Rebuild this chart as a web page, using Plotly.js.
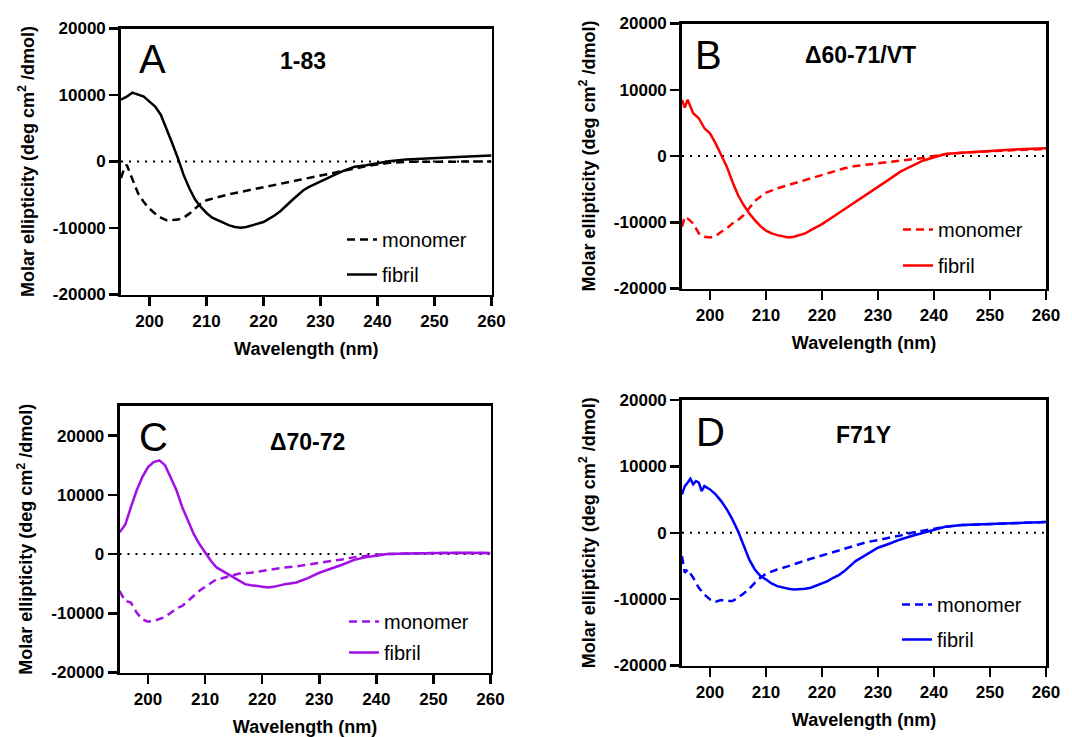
<!DOCTYPE html>
<html>
<head>
<meta charset="utf-8">
<script src="https://cdn.plot.ly/plotly-3.0.1.min.js"></script>
<style>html,body{margin:0;padding:0;background:#fff;}#chart{width:1072px;height:737px;}</style>
</head>
<body>
<div id="chart"></div>
<script>
// ---------- Data (wavelength in nm, molar ellipticity in deg cm2/dmol) ----------
const panelLetters = ["A", "B", "C", "D"];
const panelNames = ["1-83", "Δ60-71/VT", "Δ70-72", "F71Y"];
const seriesNames = ["monomer", "fibril"];
const xTickVals = [200, 210, 220, 230, 240, 250, 260];
const yTickVals = [-20000, -10000, 0, 10000, 20000];
const yTickText = ["-20000", "-10000", "0", "10000", "20000"];

// Panel A (1-83)
const aMonoWl  = [195,195.5,196,197,198,199,200,201,202,203,204,205,206,207,208,209,210,212,214,216,218,220,222,224,226,228,230,232,234,236,238,240,242,245,250,255,260];
const aMonoVal = [-2500,-1200,-500,-2800,-4800,-6100,-7100,-7840,-8440,-8840,-8840,-8740,-8440,-7840,-7090,-6330,-5830,-5330,-4920,-4570,-4220,-3970,-3570,-3170,-2810,-2460,-2210,-1810,-1410,-1060,-700,-400,-200,-50,0,0,0];
const aFibWl   = [195,196,197,198,199,200,201,202,203,204,205,206,207,208,209,210,211,212,213,214,215,216,217,218,219,220,221,222,223,224,225,226,227,228,230,232,234,236,238,240,242,245,250,255,260];
const aFibVal  = [9300,9750,10350,10100,9750,9000,8250,7000,4700,2700,450,-2050,-4070,-5730,-6830,-7740,-8440,-8840,-9250,-9600,-9850,-9950,-9850,-9600,-9350,-9100,-8600,-8090,-7440,-6580,-5830,-5080,-4320,-3820,-2960,-2210,-1410,-800,-550,-200,50,300,550,700,900];

// Panel B (Δ60-71/VT)
const bMonoWl  = [195,195.5,196,197,198,199,200,201,202,203,204,205,206,207,208,209,210,212,214,216,218,220,222,224,226,228,230,232,234,236,238,240,242,245,250,255,260];
const bMonoVal = [-10680,-9170,-9420,-10180,-11690,-12190,-12290,-12090,-11440,-10930,-10180,-9670,-8920,-7910,-6800,-6150,-5540,-4890,-4380,-3880,-3380,-2870,-2370,-1860,-1510,-1310,-1110,-960,-760,-500,-300,0,250,500,760,910,1060];
const bFibWl   = [195,195.5,196,196.5,197,198,199,200,201,202,203,204,205,206,207,208,209,210,211,212,213,214,215,216,217,218,219,220,222,224,226,228,230,232,234,236,238,240,242,245,250,255,260];
const bFibVal  = [8460,7300,8500,7400,6450,5700,4180,3430,1910,150,-1610,-3880,-5890,-7400,-8660,-9670,-10580,-11280,-11690,-11940,-12090,-12290,-12190,-11940,-11690,-11180,-10780,-10280,-9170,-8060,-6900,-5740,-4630,-3530,-2370,-1510,-710,-200,300,500,810,1010,1160];

// Panel C (Δ70-72)
const cMonoWl  = [195,196,197,198,199,200,201,202,203,204,205,206,207,208,209,210,211,212,213,214,215,216,218,220,222,224,226,228,230,232,234,236,238,240,242,245,250,255,260];
const cMonoVal = [-6210,-7910,-8190,-9890,-11020,-11410,-11300,-11020,-10620,-9890,-9150,-8760,-7910,-7060,-6210,-5540,-4860,-4240,-4070,-3840,-3500,-3280,-3160,-2820,-2540,-2260,-2090,-1810,-1530,-1240,-900,-560,-280,-110,0,110,170,170,170];
const cFibWl   = [195,196,197,198,199,200,201,202,203,204,205,206,207,208,209,210,211,212,213,214,215,216,217,218,219,220,221,222,224,226,228,230,232,234,236,238,240,242,245,250,255,260];
const cFibVal  = [3670,4970,7910,10730,12990,14690,15540,15820,14970,12990,10730,7910,5650,3390,1690,280,-1130,-2260,-2820,-3500,-4070,-4630,-5080,-5250,-5370,-5540,-5650,-5540,-5080,-4800,-4070,-3160,-2540,-1810,-1020,-560,-280,0,110,230,230,170];

// Panel D (F71Y)
const dMonoWl  = [195,195.5,196,197,198,199,200,201,202,203,204,205,206,207,208,209,210,212,214,216,218,220,222,224,226,228,230,232,234,236,238,240,242,245,250,255,260];
const dMonoVal = [-3520,-6030,-5530,-6780,-8290,-9300,-10050,-10400,-10150,-10300,-10300,-9800,-9150,-8440,-7540,-6780,-6180,-5530,-5030,-4420,-3920,-3420,-2910,-2410,-1910,-1410,-1110,-800,-400,0,300,600,900,1160,1360,1460,1610];
const dFibWl   = [195,195.5,196,196.5,197,197.5,198,198.5,199,200,201,202,203,204,205,206,207,208,209,210,211,212,213,214,215,216,217,218,219,220,221,222,223,224,225,226,228,230,232,234,236,238,240,242,245,250,255,260];
const dFibVal  = [5780,7030,7540,8140,7290,7790,7540,6280,7030,6530,5780,4770,3520,2010,250,-2010,-4020,-5530,-6530,-7040,-7640,-8040,-8290,-8440,-8540,-8540,-8440,-8290,-7940,-7640,-7290,-6780,-6380,-5780,-5030,-4270,-3270,-2260,-1660,-1010,-500,0,500,900,1160,1360,1460,1610];

const panelColors = ["#000000", "#ff0000", "#a010e6", "#0000ff"];

// ---------- Build ----------
const panels = [
  {mono:[aMonoWl,aMonoVal], fib:[aFibWl,aFibVal]},
  {mono:[bMonoWl,bMonoVal], fib:[bFibWl,bFibVal]},
  {mono:[cMonoWl,cMonoVal], fib:[cFibWl,cFibVal]},
  {mono:[dMonoWl,dMonoVal], fib:[dFibWl,dFibVal]}
];
const FONT = "Liberation Sans, Arial, sans-serif";
const W = 1072, H = 737;
// plot-area boxes in pixels [left, right, top, bottom]
const boxes = [
  [121, 491.5, 28.5, 294.5],
  [682, 1046, 23.5, 288.5],
  [119.5, 490.5, 406, 672.5],
  [682, 1046, 400, 665.5]
];
const yRanges = [[-20000,20000],[-20000,20000],[-20000,25000],[-20000,20000]];
const legendPos = [[342, 220, 6], [898, 210, 7], [344, 602, 2], [897, 585, 6]];
const letterPos = [[152,59],[708,55],[153,437],[710,432]];
const namePos = [[303,61],[860,55],[307,442],[863,435]];

const traces = [];
const layout = {
  width: W, height: H,
  margin: {l:0, r:0, t:0, b:0},
  paper_bgcolor: "#fff", plot_bgcolor: "#fff",
  font: {family: FONT, color: "#000"},
  showlegend: true,
  shapes: [], annotations: []
};

panels.forEach((p, i) => {
  const n = i === 0 ? "" : String(i + 1);
  const xa = "x" + n, ya = "y" + n;
  const lg = "legend" + n;
  const col = panelColors[i];
  traces.push({
    x: p.mono[0], y: p.mono[1], xaxis: xa, yaxis: ya, type: "scatter", mode: "lines",
    name: seriesNames[0], legend: lg, legendgroup: "m" + i,
    line: {color: col, width: 2.5, dash: "8px,5px"}
  });
  traces.push({
    x: p.fib[0], y: p.fib[1], xaxis: xa, yaxis: ya, type: "scatter", mode: "lines",
    name: seriesNames[1], legend: lg, legendgroup: "f" + i,
    line: {color: col, width: 2.5}
  });
  const b = boxes[i];
  const axCommon = {
    showline: true, mirror: true, linecolor: "#000", linewidth: 2.8,
    ticks: "outside", ticklen: 9, tickwidth: 2.5, tickcolor: "#000",
    showgrid: false, zeroline: false, fixedrange: true,
    tickfont: {family: FONT, size: 17, color: "#000", weight: "bold"}
  };
  layout["xaxis" + n] = Object.assign({}, axCommon, {
    domain: [b[0]/W, b[1]/W], anchor: ya, range: [195, 260],
    tickvals: xTickVals,
    title: {text: "Wavelength (nm)", font: {family: FONT, size: 18, color: "#000", weight: "bold"}, standoff: 13}
  });
  layout["yaxis" + n] = Object.assign({}, axCommon, {
    domain: [1 - b[3]/H, 1 - b[2]/H], anchor: xa, range: yRanges[i],
    tickvals: yTickVals, ticktext: yTickText,
    title: {text: "Molar ellipticity (deg cm<sup>2</sup> /dmol)", font: {family: FONT, size: 18, color: "#000", weight: "bold"}, standoff: 14}
  });
  layout.shapes.push({
    type: "line", xref: xa + " domain", yref: ya, x0: 0, x1: 1, y0: 0, y1: 0,
    line: {color: "#000", width: 2, dash: "2px,6px"}, layer: "below"
  });
  const lp = legendPos[i];
  layout[lg] = {
    x: lp[0]/W, y: 1 - lp[1]/H, xanchor: "left", yanchor: "top",
    bgcolor: "rgba(0,0,0,0)", borderwidth: 0,
    font: {family: FONT, size: 20, color: "#000"},
    traceorder: "grouped", tracegroupgap: lp[2]
  };
  layout.annotations.push({
    text: panelLetters[i], xref: "paper", yref: "paper",
    x: letterPos[i][0]/W, y: 1 - letterPos[i][1]/H, xanchor: "center", yanchor: "middle",
    showarrow: false, font: {family: FONT, size: 40, color: "#000"}
  });
  layout.annotations.push({
    text: panelNames[i], xref: "paper", yref: "paper",
    x: namePos[i][0]/W, y: 1 - namePos[i][1]/H, xanchor: "center", yanchor: "middle",
    showarrow: false, font: {family: FONT, size: 23, color: "#000", weight: "bold"}
  });
});

Plotly.newPlot("chart", traces, layout, {displayModeBar: false, staticPlot: true});
</script>
</body>
</html>
